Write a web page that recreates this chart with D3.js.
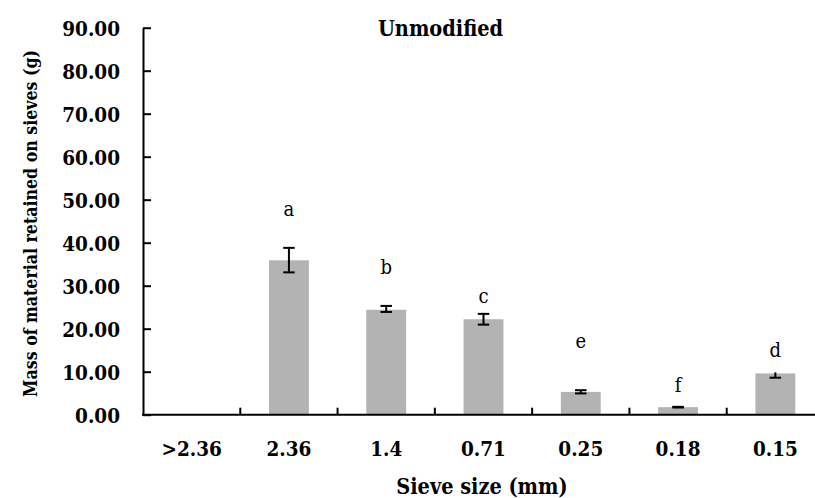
<!DOCTYPE html>
<html>
<head>
<meta charset="utf-8">
<script src="https://cdn.jsdelivr.net/npm/d3@7/dist/d3.min.js"></script>
<style>
  html, body { margin: 0; padding: 0; background: #fff; }
  svg { display: block; }
  text { font-family: "DejaVu Serif Condensed", "DejaVu Serif", serif; font-stretch: condensed; fill: #000; }
</style>
</head>
<body>
<svg id="chart" width="815" height="498"></svg>
<script>
// ---- data ----
const categories = [">2.36", "2.36", "1.4", "0.71", "0.25", "0.18", "0.15"];
const values     = [0, 35.9, 24.4, 22.2, 5.3, 1.75, 9.6];
const errPlus    = [0, 2.9, 0.9, 1.25, 0.4, 0.08, 0];
const errMinus   = [0, 2.8, 0.5, 1.25, 0.35, 0.08, 1.0];
const letters    = ["", "a", "b", "c", "e", "f", "d"];
const letterAt   = [0, 46.1, 32.7, 25.9, 15.4, 5.3, 13.5];
const yTicks     = [0, 10, 20, 30, 40, 50, 60, 70, 80, 90];

const FONT = "'DejaVu Serif Condensed', 'DejaVu Serif', serif";
const svg = d3.select("#chart");
const x0 = 143, x1 = 824, yBase = 414.7, yTop = 27.7;

const x = d3.scaleBand().domain(categories).range([x0, x1]).paddingInner(0).paddingOuter(0);
const y = d3.scaleLinear().domain([0, 90]).range([yBase, yTop]);
const barW = x.bandwidth() * 0.41;

// bars
svg.append("g").selectAll("rect").data(categories).join("rect")
  .attr("x", (d) => x(d) + x.bandwidth() / 2 - barW / 2)
  .attr("y", (d, i) => y(values[i]))
  .attr("width", barW)
  .attr("height", (d, i) => yBase - y(values[i]))
  .attr("fill", "#b3b3b3");

// error bars
const capW = 11.5;
const eg = svg.append("g").attr("stroke", "#000").attr("stroke-width", 2);
categories.forEach((c, i) => {
  if (values[i] === 0) return;
  const cx = x(c) + x.bandwidth() / 2;
  const hi = y(values[i] + errPlus[i]);
  const lo = y(values[i] - errMinus[i]);
  eg.append("line").attr("x1", cx).attr("x2", cx).attr("y1", hi - (errPlus[i] > 0 ? 0 : 1)).attr("y2", lo);
  if (errPlus[i] > 0) eg.append("line").attr("x1", cx - capW / 2).attr("x2", cx + capW / 2).attr("y1", hi).attr("y2", hi);
  if (errMinus[i] > 0) eg.append("line").attr("x1", cx - capW / 2).attr("x2", cx + capW / 2).attr("y1", lo).attr("y2", lo);
});

// significance letters
svg.append("g").selectAll("text").data(categories).join("text")
  .attr("x", (d) => x(d) + x.bandwidth() / 2)
  .attr("y", (d, i) => y(letterAt[i]))
  .attr("text-anchor", "middle")
  .attr("font-size", 20)
  .text((d, i) => letters[i]);

// y axis
const yAxis = d3.axisLeft(y).tickValues(yTicks).tickFormat(d3.format(".2f"))
  .tickSizeInner(-8).tickSizeOuter(0).tickPadding(23);
const yg = svg.append("g").attr("transform", `translate(${x0},0)`).call(yAxis);
yg.select(".domain").attr("stroke", "#000").attr("stroke-width", 2);
yg.selectAll(".tick line").attr("stroke", "#000").attr("stroke-width", 2);
yg.selectAll(".tick text").attr("font-family", FONT).attr("font-weight", "bold")
  .attr("font-size", 20.5).attr("fill", "#000").attr("dy", "0.36em");

// x axis
svg.append("line").attr("x1", x0 - 1).attr("x2", x1).attr("y1", yBase).attr("y2", yBase)
  .attr("stroke", "#000").attr("stroke-width", 2);
svg.append("g").selectAll("line").data(categories.slice(1)).join("line")
  .attr("x1", (d) => x(d)).attr("x2", (d) => x(d))
  .attr("y1", yBase).attr("y2", yBase - 7)
  .attr("stroke", "#000").attr("stroke-width", 2);
svg.append("g").selectAll("text").data(categories).join("text")
  .attr("x", (d) => x(d) + x.bandwidth() / 2)
  .attr("y", 456)
  .attr("text-anchor", "middle")
  .attr("font-weight", "bold")
  .attr("font-size", 20.5)
  .text((d) => d);

// titles
svg.append("text").attr("x", 440.5).attr("y", 35.5).attr("text-anchor", "middle")
  .attr("font-weight", "bold").attr("font-size", 21.5).text("Unmodified");
svg.append("text").attr("x", 482).attr("y", 494).attr("text-anchor", "middle")
  .attr("font-weight", "bold").attr("font-size", 21.5).text("Sieve size (mm)");
svg.append("text").attr("transform", "translate(36.5,223.5) rotate(-90)").attr("text-anchor", "middle")
  .attr("font-weight", "bold").attr("font-size", 17.6).text("Mass of material retained on sieves (g)");
</script>
</body>
</html>
